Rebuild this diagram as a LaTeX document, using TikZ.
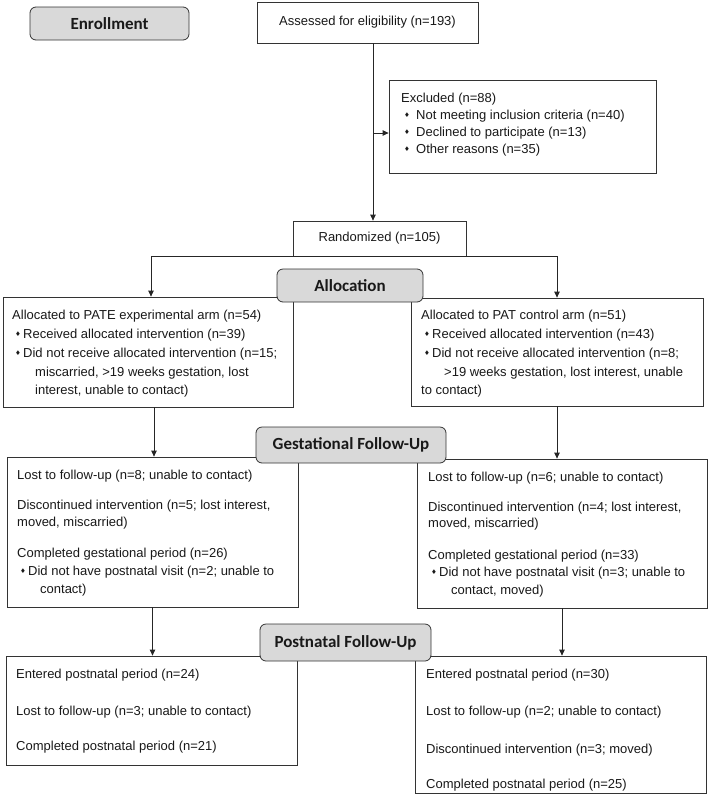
\documentclass[tikz,border=0pt]{standalone}
\usepackage{fontspec}
\setmainfont{Liberation Sans}
\newfontfamily\labfont{Carlito}
\newfontfamily\symfont{DejaVu Sans}
\usetikzlibrary{arrows.meta}
\definecolor{labgray}{RGB}{217,217,217}
\newcommand\bul[1][8pt]{\makebox[#1][l]{\raisebox{1.3pt}{\fontsize{6.5}{7}\selectfont\symfont ♦}}}
\begin{document}
\begin{tikzpicture}[x=1pt,y=-1pt,
  box/.style={draw=black!80, line width=0.8pt, fill=white, rectangle, inner sep=0pt, font=\fontsize{13}{15}\selectfont, text=black!90},
  lab/.style={draw=black!80, line width=0.8pt, fill=labgray, rounded corners=6pt, inner sep=0pt, font=\labfont\bfseries\fontsize{17}{20}\selectfont, text=black!90},
  txt/.style={anchor=base west, inner sep=0pt, font=\fontsize{13}{15}\selectfont, text=black!90},
  arr/.style={draw=black!85, line width=0.8pt, -{Triangle[length=6pt,width=5.5pt]}}]
\useasboundingbox (0,0) rectangle (709,804);
% boxes
\node[box, minimum width=221pt, minimum height=41pt] (assess) at (367.5,22.5) {Assessed for eligibility (n=193)};
\node[box, minimum width=267pt, minimum height=93pt] (excl) at (522.5,126.5) {};
\node[box, minimum width=173pt, minimum height=35pt] (rand) at (379.5,238.5) {Randomized (n=105)};
\node[box, minimum width=290pt, minimum height=110pt] (leftA) at (148,352) {};
\node[box, minimum width=292pt, minimum height=108pt] (rightA) at (557,352) {};
\node[box, minimum width=291pt, minimum height=150pt] (leftG) at (152.5,532) {};
\node[box, minimum width=290pt, minimum height=149pt] (rightG) at (562,533.5) {};
\node[box, minimum width=291pt, minimum height=109pt] (leftP) at (151.5,710.5) {};
\node[box, minimum width=291pt, minimum height=137pt] (rightP) at (560.5,724.5) {};
% connectors
\coordinate (trunk) at (373,0);
\coordinate (exbr) at (373,133);
\draw[arr] (assess.south -| trunk) -- (rand.north -| trunk);
\draw[arr] (exbr) -- (exbr -| excl.west);
\draw[arr] (rand.south) -| ([xshift=3pt]leftA.north);
\draw[arr] (rand.south) -| (rightA.north);
\draw[arr] ([xshift=6pt]leftA.south) -- ([xshift=6pt]leftA.south |- leftG.north);
\draw[arr] (rightA.south) -- (rightA.south |- rightG.north);
\draw[arr] (leftG.south) -- (leftG.south |- leftP.north);
\draw[arr] (rightG.south) -- (rightG.south |- rightP.north);
% stage labels
\node[lab, minimum width=159pt, minimum height=33pt] (enroll) at (109.5,23.5) {Enrollment};
\node[lab, minimum width=146pt, minimum height=33pt] (alloc) at (350,285.5) {Allocation};
\node[lab, minimum width=190pt, minimum height=36pt] (gest) at (351,445) {Gestational Follow-Up};
\node[lab, minimum width=171pt, minimum height=37pt] (post) at (345.5,642.5) {Postnatal Follow-Up};
% excluded
\node[txt] (ex0) at (401,102) {Excluded (n=88)};
\node[txt] (ex1) at (404,119) {\bul[12pt]Not meeting inclusion criteria (n=40)};
\node[txt] (ex2) at (404,136) {\bul[12pt]Declined to participate (n=13)};
\node[txt] (ex3) at (404,153) {\bul[12pt]Other reasons (n=35)};
% allocation left
\node[txt] (a0) at (12,319) {Allocated to PATE experimental arm (n=54)};
\node[txt] (a1) at (15,338) {\bul Received allocated intervention (n=39)};
\node[txt] (a2) at (15,357) {\bul Did not receive allocated intervention (n=15;};
\node[txt] (a3) at (35,376) {miscarried, >19 weeks gestation, lost};
\node[txt] (a4) at (35,394) {interest, unable to contact)};
% allocation right
\node[txt] (b0) at (421,319) {Allocated to PAT control arm (n=51)};
\node[txt] (b1) at (424,338) {\bul Received allocated intervention (n=43)};
\node[txt] (b2) at (424,357) {\bul Did not receive allocated intervention (n=8;};
\node[txt] (b3) at (444,376) {>19 weeks gestation, lost interest, unable};
\node[txt] (b4) at (421,394) {to contact)};
% gestational left
\node[txt] (g0) at (17,479) {Lost to follow-up (n=8; unable to contact)};
\node[txt] (g1) at (17,509) {Discontinued intervention (n=5; lost interest,};
\node[txt] (g2) at (17,526) {moved, miscarried)};
\node[txt] (g3) at (17,557) {Completed gestational period (n=26)};
\node[txt] (g4) at (20,575) {\bul Did not have postnatal visit (n=2; unable to};
\node[txt] (g5) at (40,593) {contact)};
% gestational right
\node[txt] (h0) at (428,481) {Lost to follow-up (n=6; unable to contact)};
\node[txt] (h1) at (428,511) {Discontinued intervention (n=4; lost interest,};
\node[txt] (h2) at (428,527) {moved, miscarried)};
\node[txt] (h3) at (428,559) {Completed gestational period (n=33)};
\node[txt] (h4) at (431,576) {\bul Did not have postnatal visit (n=3; unable to};
\node[txt] (h5) at (451,594) {contact, moved)};
% postnatal left
\node[txt] (p0) at (16,678) {Entered postnatal period (n=24)};
\node[txt] (p1) at (16,715) {Lost to follow-up (n=3; unable to contact)};
\node[txt] (p2) at (16,750) {Completed postnatal period (n=21)};
% postnatal right
\node[txt] (q0) at (426,678) {Entered postnatal period (n=30)};
\node[txt] (q1) at (426,715) {Lost to follow-up (n=2; unable to contact)};
\node[txt] (q2) at (426,753) {Discontinued intervention (n=3; moved)};
\node[txt] (q3) at (426,788) {Completed postnatal period (n=25)};
\end{tikzpicture}
\end{document}
